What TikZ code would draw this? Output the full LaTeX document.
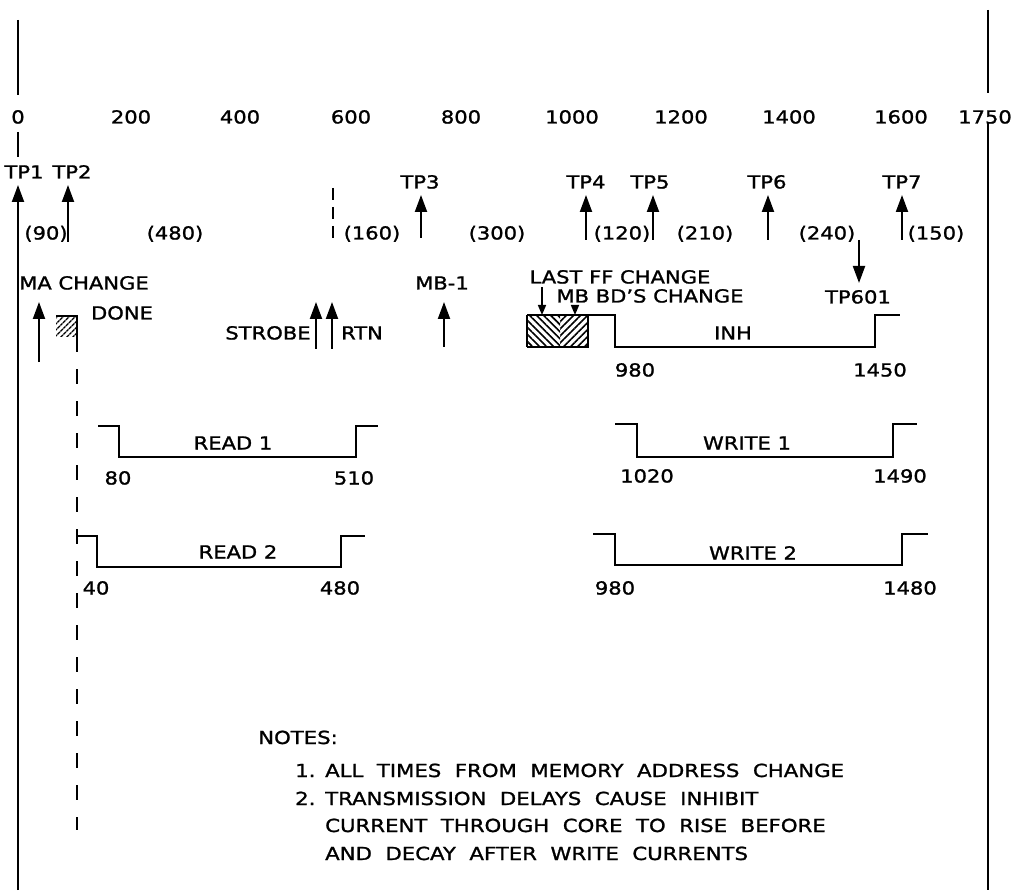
\documentclass[tikz,border=0pt]{standalone}
\usepackage{fontspec}
\setmainfont{DejaVu Sans}[FakeStretch=1.17, FakeBold=1.3]
\newfontfamily\notefont{DejaVu Sans}[FakeStretch=1.18, FakeBold=1.3, WordSpace=2.0]
\usetikzlibrary{arrows.meta,patterns.meta}

\begin{document}
\begin{tikzpicture}[x=1pt, y=-1pt,
    every node/.style={inner sep=0pt, text height=13pt, text depth=0pt,
      font=\fontsize{18pt}{20pt}\selectfont},
    wave/.style={line width=2.2pt, line join=miter},
    tpa/.style={line width=2pt, -{Triangle[width=12pt,length=17pt]}},
    sma/.style={line width=1.6pt, -{Triangle[width=8pt,length=10pt]}},
    note/.style={anchor=base west, text height=, text depth=,
      font=\notefont\fontsize{18pt}{20pt}\selectfont}]
  \useasboundingbox (0,0) rectangle (1013,896);
  % time axis
  \draw[line width=2pt] (18,20) -- (18,95);
  \draw[line width=2pt] (18,132) -- (18,157);
  \draw[line width=2pt] (988,10) -- (988,93);
  \draw[line width=2pt] (988,122) -- (988,890);
  \foreach \t/\x in {0/18, 200/131, 400/240, 600/351, 800/461, 1000/572,
      1200/681, 1400/789, 1600/901, 1750/985}
    \node (t\t) at (\x,117) {\t};
  % test points
  \node (tp1) at (24,172) {TP1};
  \node (tp2) at (72,172) {TP2};
  \node (tp3) at (420,182) {TP3};
  \node (tp4) at (586,182) {TP4};
  \node (tp5) at (650,182) {TP5};
  \node (tp6) at (767,182) {TP6};
  \node (tp7) at (902,182) {TP7};
  \draw[tpa] (18,890) -- (18,185);
  \draw[tpa] (68,242) -- (68,185);
  \draw[tpa] (421,238) -- (421,195);
  \draw[tpa] (586,240) -- (586,195);
  \draw[tpa] (653,240) -- (653,195);
  \draw[tpa] (768,240) -- (768,195);
  \draw[tpa] (902,240) -- (902,195);
  \draw[line width=1.5pt, dash pattern=on 12pt off 7pt] (333,188) -- (333,240);
  % intervals
  \foreach \d/\x in {90/46, 480/175, 160/372, 300/497, 120/622, 210/705,
      240/827, 150/936}
    \node (d\d) at (\x,233) {(\d)};
  \draw[tpa] (859,240) -- (859,283);
  \node (tp601) at (858,297) {TP601};
  % memory address
  \node (ma) at (84,283) {MA CHANGE};
  \node (done) at (122,313) {DONE};
  \draw[tpa] (39,362) -- (39,302);
  \fill[pattern={Lines[angle=45, distance=4pt, line width=1.4pt]}] (56,316) rectangle (77,337);
  \draw[line width=2pt] (56,316) -- (77,316) -- (77,337);
  \draw[line width=2pt, dash pattern=on 15pt off 17pt] (77,337) -- (77,830);
  % strobe, rtn, mb-1
  \node (strobe) at (268,333) {STROBE};
  \node (rtn) at (362,333) {RTN};
  \node (mb1) at (442,283) {MB-1};
  \draw[tpa] (316,349) -- (316,302);
  \draw[tpa] (332,349) -- (332,302);
  \draw[tpa] (444,347) -- (444,302);
  % inhibit
  \node (lastff) at (620,277) {LAST FF CHANGE};
  \node (mbbd) at (650,296) {MB BD'S CHANGE};
  \fill[pattern={Lines[angle=-45, distance=5pt, line width=1.6pt]}] (527,315) rectangle (560,347);
  \fill[pattern={Lines[angle=45, distance=5pt, line width=1.6pt]}] (560,315) rectangle (588,347);
  \draw[line width=2pt] (527,347) -- (527,315) (527,347) -- (588,347) -- (588,315);
  \draw[sma] (542,287) -- (542,315);
  \draw[sma] (575,306) -- (575,315);
  \draw[wave] (527,315) -- (615,315) -- (615,347) -- (875,347) -- (875,315) -- (900,315);
  \node (inh) at (733,333) {INH};
  \node (i980) at (635,370) {980};
  \node (i1450) at (880,370) {1450};
  % read currents
  \draw[wave] (98,426) -- (119,426) -- (119,457) -- (356,457) -- (356,426) -- (378,426);
  \node (rd1) at (233,443) {READ 1};
  \node (r80) at (118,478) {80};
  \node (r510) at (354,478) {510};
  \draw[wave] (77,536) -- (97,536) -- (97,567) -- (341,567) -- (341,536) -- (365,536);
  \node (rd2) at (238,552) {READ 2};
  \node (r40) at (96,588) {40};
  \node (r480) at (340,588) {480};
  % write currents
  \draw[wave] (615,424) -- (637,424) -- (637,457) -- (893,457) -- (893,424) -- (917,424);
  \node (wr1) at (747,443) {WRITE 1};
  \node (w1020) at (647,476) {1020};
  \node (w1490) at (900,476) {1490};
  \draw[wave] (593,534) -- (615,534) -- (615,565) -- (902,565) -- (902,534) -- (928,534);
  \node (wr2) at (753,553) {WRITE 2};
  \node (w980) at (615,588) {980};
  \node (w1480) at (910,588) {1480};
  % notes
  \node[note] (notes) at (258,744) {NOTES:};
  \node[note] (n1) at (295,777) {1.};
  \node[note] (n1a) at (325,777) {ALL TIMES FROM MEMORY ADDRESS CHANGE};
  \node[note] (n2) at (295,805) {2.};
  \node[note] (n2a) at (325,805) {TRANSMISSION DELAYS CAUSE INHIBIT};
  \node[note] (n2b) at (325,832) {CURRENT THROUGH CORE TO RISE BEFORE};
  \node[note] (n2c) at (325,860) {AND DECAY AFTER WRITE CURRENTS};
\end{tikzpicture}
\end{document}
